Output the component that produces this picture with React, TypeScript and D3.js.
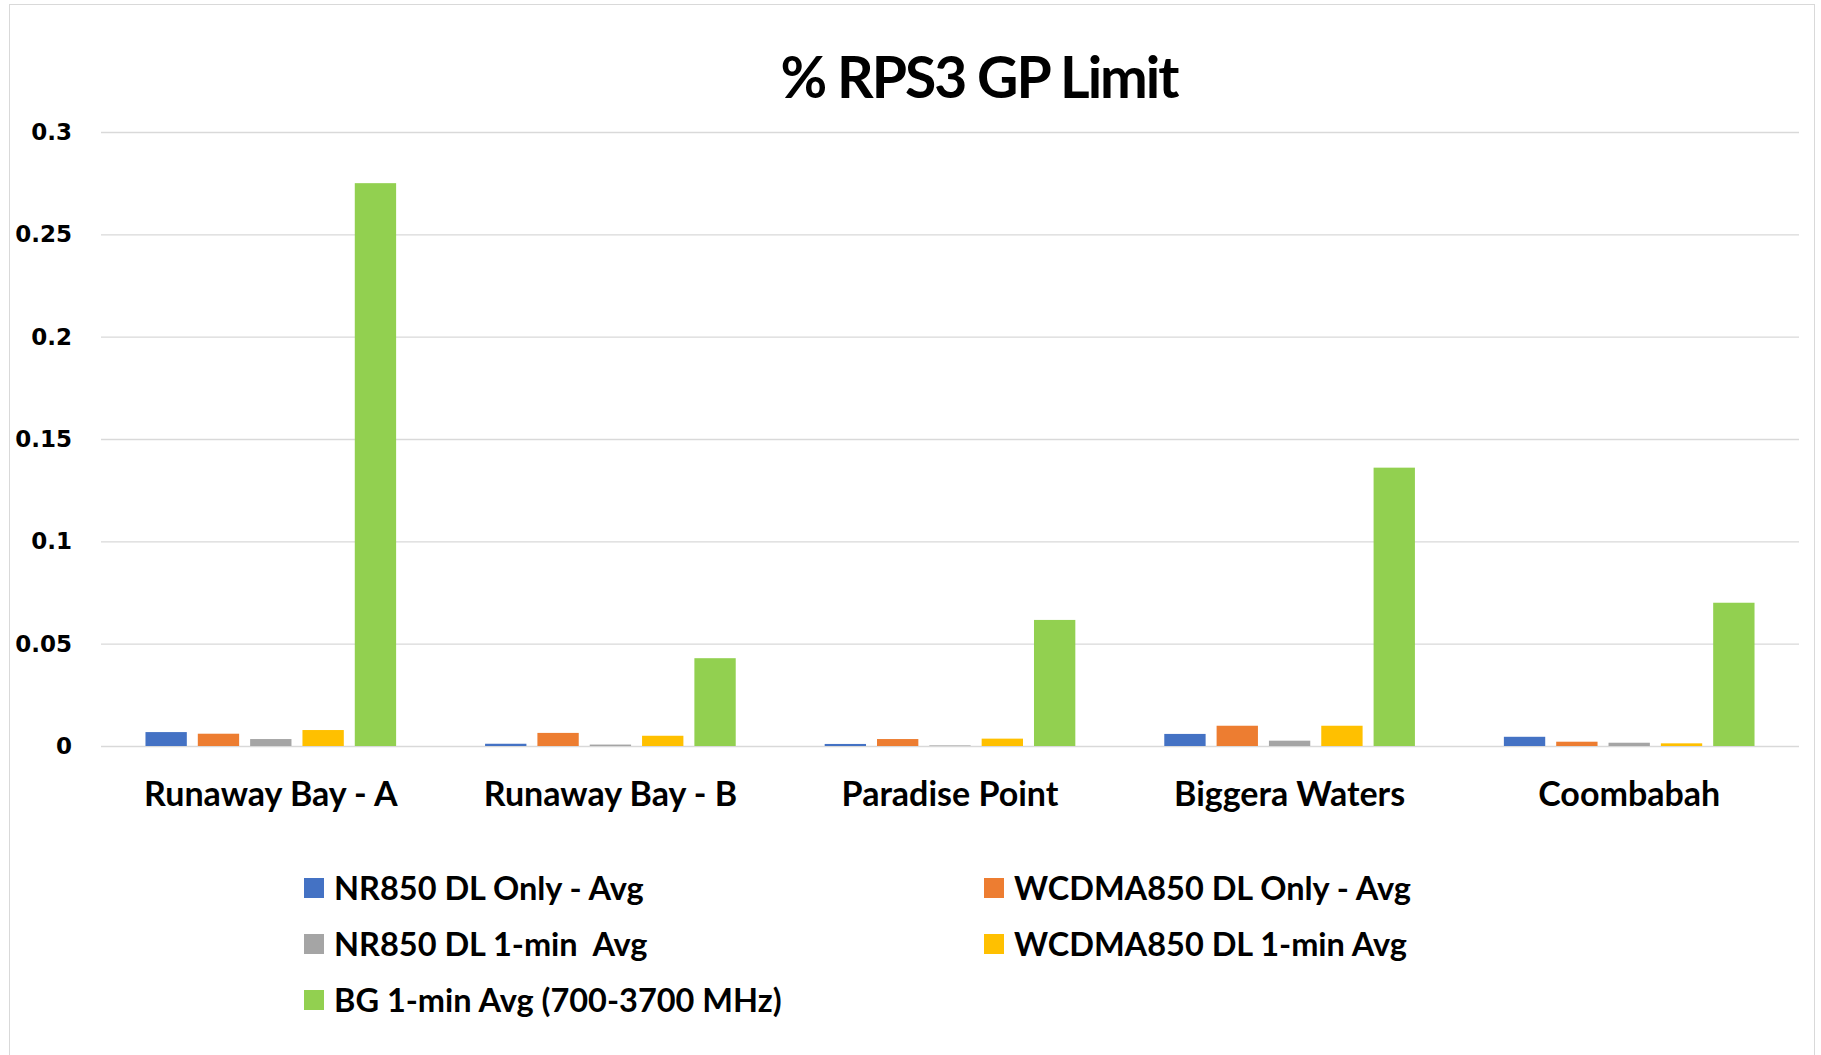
import React, { useEffect, useRef } from "react";
import * as d3 from "d3";

const sites = ["Runaway Bay - A", "Runaway Bay - B", "Paradise Point", "Biggera Waters", "Coombabah"];
const seriesNames = [
  "NR850 DL Only - Avg",
  "WCDMA850 DL Only - Avg",
  "NR850 DL 1-min  Avg",
  "WCDMA850 DL 1-min Avg",
  "BG 1-min Avg (700-3700 MHz)",
];
const nrDlOnly = [0.0068, 0.0011, 0.001, 0.0059, 0.0045];
const wcdmaDlOnly = [0.006, 0.0064, 0.0034, 0.0099, 0.0021];
const nrOneMin = [0.0034, 0.0007, 0.0003, 0.0026, 0.0016];
const wcdmaOneMin = [0.0078, 0.005, 0.0036, 0.0099, 0.0013];
const bgOneMin = [0.275, 0.0429, 0.0616, 0.136, 0.07];
const yTicks = [0, 0.05, 0.1, 0.15, 0.2, 0.25, 0.3];
const colors = ["#4472C4", "#ED7D31", "#A5A5A5", "#FFC000", "#92D050"];

export default function App() {
  const ref = useRef<SVGSVGElement>(null);

  useEffect(() => {
    const svg = d3.select(ref.current);
    svg.selectAll("*").remove();

    const series = [nrDlOnly, wcdmaDlOnly, nrOneMin, wcdmaOneMin, bgOneMin];

    // chart frame
    svg
      .append("rect")
      .attr("x", 9.5)
      .attr("y", 4.5)
      .attr("width", 1805)
      .attr("height", 1060)
      .attr("fill", "#fff")
      .attr("stroke", "#d9d9d9");

    svg
      .append("text")
      .attr("x", 979)
      .attr("y", 98)
      .attr("text-anchor", "middle")
      .style("font-family", "Lato, sans-serif")
      .style("font-weight", "bold")
      .style("font-size", "57px")
      .style("letter-spacing", "-2px")
      .text("% RPS3 GP Limit");

    const x0 = d3.scaleBand().domain(sites).range([101, 1799]);
    const x1 = d3
      .scaleBand<number>()
      .domain(d3.range(series.length))
      .range([0, x0.bandwidth()])
      .paddingInner(0.21)
      .paddingOuter(0.85);
    const y = d3.scaleLinear().domain([0, 0.3]).range([746, 132]);

    // grid
    svg
      .append("g")
      .attr("transform", "translate(101,0)")
      .call(d3.axisLeft(y).tickValues(yTicks).tickSize(-1698).tickFormat(() => ""))
      .call((g) => g.select(".domain").remove())
      .call((g) => g.selectAll("line").attr("stroke", "#d9d9d9").attr("stroke-width", 1.3));

    // y labels
    svg
      .append("g")
      .attr("transform", "translate(101,0)")
      .call(d3.axisLeft(y).tickValues(yTicks).tickSize(0).tickPadding(29).tickFormat((d) => String(d)))
      .call((g) => g.select(".domain").remove())
      .selectAll("text")
      .style("font-family", "DejaVu Sans, sans-serif")
      .style("font-weight", "bold")
      .style("font-size", "23px")
      .attr("fill", "#000");

    series.forEach((vals, si) => {
      svg
        .append("g")
        .selectAll("rect")
        .data(vals)
        .enter()
        .append("rect")
        .attr("x", (d, i) => (x0(sites[i]) ?? 0) + (x1(si) ?? 0))
        .attr("y", (d) => y(d))
        .attr("width", x1.bandwidth())
        .attr("height", (d) => y(0) - y(d))
        .attr("fill", colors[si]);
    });

    // x labels
    svg
      .append("g")
      .attr("transform", "translate(0,746)")
      .call(d3.axisBottom(x0).tickSize(0).tickPadding(36))
      .call((g) => g.select(".domain").remove())
      .selectAll("text")
      .style("font-family", "Lato, sans-serif")
      .style("font-weight", "bold")
      .style("font-size", "34px")
      .attr("fill", "#000");

    // legend
    const legendX = [304, 984];
    const legendY = [888, 944, 1000];
    const legend = svg
      .append("g")
      .selectAll("g")
      .data(seriesNames)
      .enter()
      .append("g")
      .attr("transform", (d, i) => `translate(${legendX[i % 2]},${legendY[Math.floor(i / 2)]})`);
    legend
      .append("rect")
      .attr("x", 0)
      .attr("y", -10)
      .attr("width", 20)
      .attr("height", 20)
      .attr("fill", (d, i) => colors[i]);
    legend
      .append("text")
      .attr("x", 30)
      .attr("y", 12)
      .style("font-family", "Lato, sans-serif")
      .style("font-weight", "bold")
      .style("font-size", "32.5px")
      .style("white-space", "pre")
      .text((d) => d);
  }, []);

  return (
    <div style={{ position: "absolute", left: 0, top: 0 }}>
      <svg ref={ref} width={1821} height={1055} style={{ display: "block" }} />
    </div>
  );
}
